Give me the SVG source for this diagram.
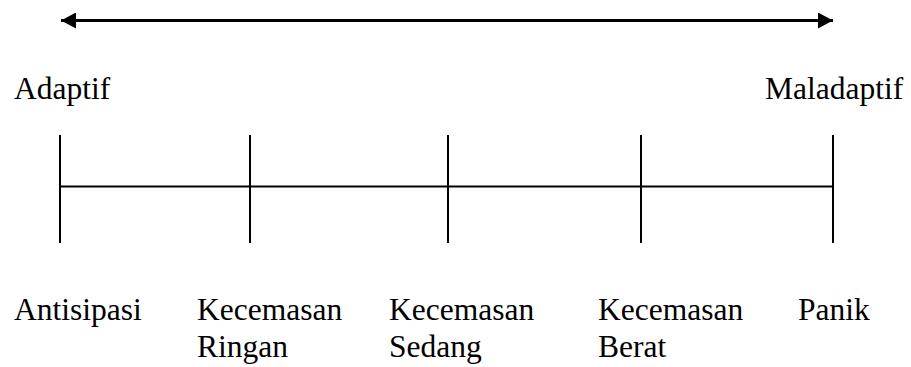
<svg xmlns="http://www.w3.org/2000/svg" width="911" height="367" viewBox="0 0 911 367">
<style>
.t{font-family:"Liberation Serif","Times New Roman",serif;font-size:31.5px;fill:#000}
.ln{stroke:#000;stroke-width:2;fill:none}
</style>
<defs>
<marker id="ah" viewBox="0 0 15 16" refX="15" refY="8" markerWidth="15" markerHeight="16" markerUnits="userSpaceOnUse" orient="auto-start-reverse">
<path d="M0,0 L15,8 L0,16 Z" fill="#000"/>
</marker>
</defs>
<g id="connectors">
<line id="arrow" x1="61" y1="20.5" x2="833" y2="20.5" stroke="#000" stroke-width="3" marker-start="url(#ah)" marker-end="url(#ah)"/>
<line class="ln" x1="60" y1="186.5" x2="833" y2="186.5"/>
<line class="ln" x1="60" y1="135" x2="60" y2="243"/>
<line class="ln" x1="250" y1="135" x2="250" y2="243"/>
<line class="ln" x1="448" y1="135" x2="448" y2="243"/>
<line class="ln" x1="641" y1="135" x2="641" y2="243"/>
<line class="ln" x1="833" y1="135" x2="833" y2="243"/>
</g>
<g id="adaptif"><text class="t" x="14" y="99">Adaptif</text></g>
<g id="maladaptif"><text class="t" x="765" y="99">Maladaptif</text></g>
<g id="antisipasi"><text class="t" x="14" y="320">Antisipasi</text></g>
<g id="ringan"><text class="t" x="197" y="320">Kecemasan</text><text class="t" x="197" y="357">Ringan</text></g>
<g id="sedang"><text class="t" x="389" y="320">Kecemasan</text><text class="t" x="389" y="357">Sedang</text></g>
<g id="berat"><text class="t" x="598" y="320">Kecemasan</text><text class="t" x="598" y="357">Berat</text></g>
<g id="panik"><text class="t" x="798" y="320">Panik</text></g>
</svg>
